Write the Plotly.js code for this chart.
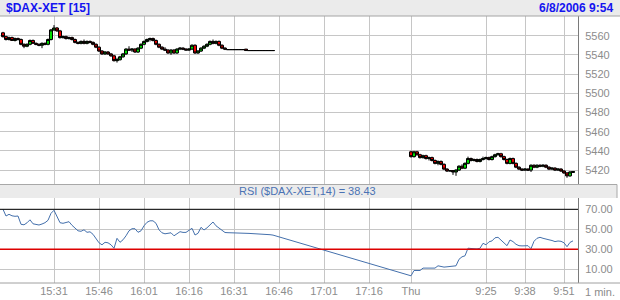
<!DOCTYPE html>
<html>
<head>
<meta charset="utf-8">
<script src="https://cdn.plot.ly/plotly-3.0.1.min.js"></script>
<style>
html,body{margin:0;padding:0;background:#fff;}
#chart{width:620px;height:300px;}
</style>
</head>
<body>
<div id="chart"></div>
<script>
// ---------- DATA ----------
const symbol = "$DAX-XET [15]";
const stamp = "6/8/2006 9:54";
const rsiLabel = "RSI ($DAX-XET,14) = 38.43";
const intervalLabel = "1 min.";

const times = [
 "15:14","15:15","15:16","15:17","15:18","15:19","15:20","15:21","15:22","15:23",
 "15:24","15:25","15:26","15:27","15:28","15:29","15:30","15:31","15:32","15:33",
 "15:34","15:35","15:36","15:37","15:38","15:39","15:40","15:41","15:42","15:43",
 "15:44","15:45","15:46","15:47","15:48","15:49","15:50","15:51","15:52","15:53",
 "15:54","15:55","15:56","15:57","15:58","15:59","16:00","16:01","16:02","16:03",
 "16:04","16:05","16:06","16:07","16:08","16:09","16:10","16:11","16:12","16:13",
 "16:14","16:15","16:16","16:17","16:18","16:19","16:20","16:21","16:22","16:23",
 "16:24","16:25","16:26","16:27","16:28","16:29","16:30","16:31","16:32","16:33",
 "16:34","16:35","16:36","16:37","16:38","16:39","16:40","16:41","16:42","16:43",
 "16:44",
 "09:00","09:01","09:02","09:03","09:04","09:05","09:06","09:07","09:08","09:09",
 "09:10","09:11","09:12","09:13","09:14","09:15","09:16","09:17","09:18","09:19",
 "09:20","09:21","09:22","09:23","09:24","09:25","09:26","09:27","09:28","09:29",
 "09:30","09:31","09:32","09:33","09:34","09:35","09:36","09:37","09:38","09:39",
 "09:40","09:41","09:42","09:43","09:44","09:45","09:46","09:47","09:48","09:49",
 "09:50","09:51","09:52","09:53","09:54"
];

const open = [
 5563,5559,5556,5558,5555,5557,5556,5551,5549,5551,
 5555,5552,5551,5550,5552,5551,5556,5566,5568,5565,
 5558,5559,5557,5558,5556,5553,5552,5554,5552,5554,
 5553,5551,5548,5544,5541,5543,5541,5539,5534,5535,
 5538,5541,5546,5545,5546,5543,5547,5551,5554,5556,
 5557,5555,5551,5548,5546,5545,5542,5545,5542,5546,
 5547,5546,5545,5546,5550,5542,5544,5547,5549,5551,
 5554,5552,5554,5550,5547,
 5545.5,5545.5,5545.5,5545.5,5545.5,5545.5,5546,
 5544.5,5544.5,5544.5,5544.5,5544.5,5544.5,5544.5,5544.5,5544.5,
 5439,5434,5439,5436,5433,5435,5432,5433,5430,5427,
 5429,5426,5421,5419,5419.5,5418,5420,5424,5422,5427,
 5432,5430,5431,5429,5431,5432,5433,5431,5434,5436,
 5437,5434,5431,5427,5432,5427,5423,5421,5420,5421,
 5420,5425,5423,5425,5424,5425,5423,5421,5422,5420,
 5421,5419,5417,5414,5417.5
];
const high = [
 5564,5560,5559,5559,5558,5558,5557,5552,5552,5556,
 5556,5553,5552,5553,5553,5557,5567,5571,5569,5566,
 5560,5560,5559,5559,5557,5554,5555,5556,5555,5555,
 5554,5552,5549,5545,5544,5544,5542,5540,5537,5539,
 5542,5547,5549,5547,5547,5548,5552,5555,5557,5558,
 5558,5556,5552,5549,5548,5546,5546,5546,5547,5548,
 5548,5547,5547,5551,5551,5545,5548,5550,5552,5555,
 5556,5555,5555,5551,5548,
 5545.5,5545.5,5545.5,5545.5,5545.5,5545.5,5546,
 5544.5,5544.5,5544.5,5544.5,5544.5,5544.5,5544.5,5544.5,5544.5,
 5440,5440,5440,5437,5436,5436,5434,5434,5431,5430,
 5430,5427,5422,5420,5420,5421,5425,5426,5428,5434,
 5433,5432,5432,5432,5434,5434,5434,5435,5437,5438,
 5438,5435,5432,5433,5433,5428,5424,5422,5422,5422,
 5426,5426,5426,5426,5426,5426,5424,5423,5423,5422,
 5422,5420,5418,5419,5419
];
const low = [
 5558,5555,5555,5555,5554,5555,5550,5547,5548,5550,
 5552,5550,5549,5547,5550,5550,5555,5565,5564,5557,
 5557,5556,5556,5555,5552,5551,5551,5551,5551,5552,
 5550,5547,5543,5540,5540,5540,5538,5533,5532,5534,
 5537,5540,5544,5543,5542,5542,5546,5550,5553,5554,
 5554,5550,5547,5545,5544,5541,5540,5541,5541,5545,
 5545,5545,5544,5545,5541,5541,5543,5546,5548,5550,
 5551,5551,5549,5546,5545,
 5545.5,5545.5,5545.5,5545.5,5545.5,5545.5,5544.5,
 5544.5,5544.5,5544.5,5544.5,5544.5,5544.5,5544.5,5544.5,5544.5,
 5433,5433,5435,5432,5432,5431,5430,5429,5426,5425,
 5425,5420,5418,5418,5415,5414,5419,5421,5421,5426,
 5429,5429,5428,5428,5430,5431,5430,5430,5433,5435,
 5433,5430,5426,5426,5426,5422,5420,5419,5419,5419,
 5418,5422,5422,5423,5423,5422,5420,5420,5419,5419,
 5418,5416,5412,5413,5417
];
const close = [
 5559,5556,5558,5555,5557,5556,5551,5549,5551,5555,
 5552,5551,5550,5552,5551,5556,5566,5568,5565,5558,
 5559,5557,5558,5556,5553,5552,5554,5552,5554,5553,
 5551,5548,5544,5541,5543,5541,5539,5534,5535,5538,
 5541,5546,5545,5546,5543,5547,5551,5554,5556,5557,
 5555,5551,5548,5546,5545,5542,5545,5542,5546,5547,
 5546,5545,5546,5550,5542,5544,5547,5549,5551,5554,
 5552,5554,5550,5547,5546,
 5545.5,5545.5,5545.5,5545.5,5545.5,5545.5,5544.5,
 5544.5,5544.5,5544.5,5544.5,5544.5,5544.5,5544.5,5544.5,5544.5,
 5434,5439,5436,5433,5435,5432,5433,5430,5427,5429,
 5426,5421,5419,5419.5,5418,5420,5424,5422,5427,5432,
 5430,5431,5429,5431,5432,5433,5431,5434,5436,5437,
 5434,5431,5427,5432,5427,5423,5421,5420,5421,5420,
 5425,5423,5425,5424,5425,5423,5421,5422,5420,5421,
 5419,5417,5414,5418,5418.5
];
const rsi = [
 70,63.3,65,63.5,63,63.3,55,54.5,56.5,59.5,
 55.5,54.8,54.3,55.3,56.6,59,66,69,62,56.6,
 56,56.6,57.6,54,51,48.5,48,49.5,47,47.5,
 45,41,36.5,34.5,37,36.5,34.5,31,41,37,
 39.5,43.5,48.5,50.6,50.6,47,48.5,53.5,57,58.5,
 58.5,56,49.5,46.5,45.5,46,46.5,43.5,45.5,47.6,
 46.9,46.9,49,51,44.3,46,52,49.3,51.5,54,
 57.3,53.5,51,48.5,46.8,
 46.6,46.6,46.6,46.7,46.6,46.4,46,45.9,45.8,45.7,45.6,45.5,45.3,45,44.6,44.2,
 3.5,8.8,8.8,8.8,11.2,11.2,11.2,11.2,11.2,13.5,
 12.5,12.2,12.5,12.7,12.9,13.5,20,22.5,23.5,31.1,
 30.8,30.6,30.4,31,36,34.5,37.5,38.4,41.5,42,
 39,36.5,33.6,39.3,37.7,35,33.6,33.4,33.3,33.6,
 30.6,38,41,42,41,40,39.5,38.8,37.7,38.3,
 38,36.5,32.6,36.9,38.43
];

const tickTimes = ["15:31","15:46","16:01","16:16","16:31","16:46","17:01","17:16","09:00","09:25","09:38","09:51"];
const tickLabels = ["15:31","15:46","16:01","16:16","16:31","16:46","17:01","17:16","Thu","9:25","9:38","9:51"];
const priceTicks = [5420,5440,5460,5480,5500,5520,5540,5560];
const rsiTicks = [10,30,50,70];
const rsiLevels = {upper:70, lower:30};

// ---------- session position (minute slots, overnight gap removed) ----------
function slot(t){
  const p = t.split(':').map(Number);
  const mins = p[0]*60 + p[1];
  return p[0] >= 12 ? mins - (15*60+13) : 137 + (mins - 9*60);
}
const xs = times.map(slot);
const tickX = tickTimes.map(slot);

const FONT = 'Liberation Sans, Arial, sans-serif';
const GRID = '#c6c6c6';
const LBL = '#8c8c8c';
const W = 578, H = 267, T = 16;
const py = y => (T + H - y) / H;   // pixel row -> paper y
const px = x => x / W;             // pixel col -> paper x

const traces = [
  {
    type:'candlestick', x:xs, open:open, high:high, low:low, close:close,
    xaxis:'x', yaxis:'y', whiskerwidth:0,
    increasing:{fillcolor:'#00dd00', line:{color:'#000000', width:1}},
    decreasing:{fillcolor:'#ee0000', line:{color:'#000000', width:1}},
    hoverinfo:'skip'
  },
  {
    type:'scatter', mode:'lines', x:xs, y:rsi, xaxis:'x2', yaxis:'y2',
    line:{color:'#4470ac', width:1}, hoverinfo:'skip'
  }
];

const layout = {
  width:620, height:300,
  margin:{l:0, r:620-W, t:T, b:300-T-H},
  paper_bgcolor:'#ffffff', plot_bgcolor:'#ffffff',
  showlegend:false,
  boxgap:0, boxgroupgap:0,
  font:{family:FONT, size:11, color:LBL},
  xaxis:{
    domain:[0,1], anchor:'y', range:[0, W/3],
    tickmode:'array', tickvals:tickX, showticklabels:false, ticks:'',
    showgrid:true, gridcolor:GRID, gridwidth:1, zeroline:false,
    rangeslider:{visible:false}, fixedrange:true
  },
  xaxis2:{
    matches:'x', anchor:'y2',
    tickmode:'array', tickvals:tickX, ticktext:tickLabels, ticks:'',
    tickfont:{family:FONT, size:11, color:LBL},
    showgrid:true, gridcolor:GRID, gridwidth:1, zeroline:false, fixedrange:true
  },
  yaxis:{
    domain:[py(184),1], side:'right', range:[5405.5,5580.5],
    tickmode:'array', tickvals:priceTicks, ticks:'', ticklabelstandoff:4,
    tickfont:{family:FONT, size:11, color:LBL},
    showgrid:true, gridcolor:GRID, zeroline:false,
    showline:true, linecolor:'#7a7a7a', linewidth:1, fixedrange:true
  },
  yaxis2:{
    domain:[0,py(198)], side:'right', range:[-3.7,81.3],
    tickmode:'array', tickvals:rsiTicks, tickformat:'.2f', ticks:'', ticklabelstandoff:4,
    tickfont:{family:FONT, size:11, color:LBL},
    showgrid:true, gridcolor:GRID, zeroline:false,
    showline:true, linecolor:'#7a7a7a', linewidth:1, fixedrange:true
  },
  shapes:[
    {type:'rect', xref:'paper', yref:'paper', x0:px(0), x1:px(620), y0:py(16), y1:py(0),
     fillcolor:'#ebebeb', line:{width:0}, layer:'above'},
    {type:'line', xref:'paper', yref:'paper', x0:px(0), x1:px(620), y0:py(16), y1:py(16),
     line:{color:'#a4a4a4', width:1}, layer:'above'},
    {type:'rect', xref:'paper', yref:'paper', x0:px(0), x1:px(617), y0:py(198), y1:py(184.5),
     fillcolor:'#ebebeb', line:{width:0}, layer:'above'},
    {type:'line', xref:'paper', yref:'paper', x0:px(0), x1:px(617), y0:py(184.5), y1:py(184.5),
     line:{color:'#a8a8a8', width:1}, layer:'above'},
    {type:'line', xref:'paper', yref:'paper', x0:px(617), x1:px(617), y0:py(198), y1:py(184.5),
     line:{color:'#a8a8a8', width:1}, layer:'above'},
    {type:'line', xref:'x2 domain', yref:'y2', x0:0, x1:1, y0:rsiLevels.upper, y1:rsiLevels.upper,
     line:{color:'#000000', width:1}},
    {type:'line', xref:'x2 domain', yref:'y2', x0:0, x1:1, y0:rsiLevels.lower, y1:rsiLevels.lower,
     line:{color:'#dd0000', width:1.5}},
    {type:'line', xref:'paper', yref:'paper', x0:px(0), x1:px(620), y0:0, y1:0,
     line:{color:'#a0a0a0', width:1}, layer:'above'}
  ],
  annotations:[
    {xref:'paper', yref:'paper', x:px(4), y:py(8), xanchor:'left', yanchor:'middle',
     text:symbol, showarrow:false, font:{family:FONT, size:12, color:'#1414f0', weight:'bold'}},
    {xref:'paper', yref:'paper', x:px(615), y:py(8), xanchor:'right', yanchor:'middle',
     text:stamp, showarrow:false, font:{family:FONT, size:12, color:'#1414f0', weight:'bold'}},
    {xref:'paper', yref:'paper', x:px(308), y:py(191.5), xanchor:'center', yanchor:'middle',
     text:rsiLabel, showarrow:false, font:{family:FONT, size:11, color:'#4a72b4'}},
    {xref:'paper', yref:'paper', x:px(600), y:py(292), xanchor:'center', yanchor:'middle',
     text:intervalLabel, showarrow:false, font:{family:FONT, size:11, color:LBL}}
  ]
};

Plotly.newPlot('chart', traces, layout, {staticPlot:true, displayModeBar:false});
</script>
</body>
</html>
